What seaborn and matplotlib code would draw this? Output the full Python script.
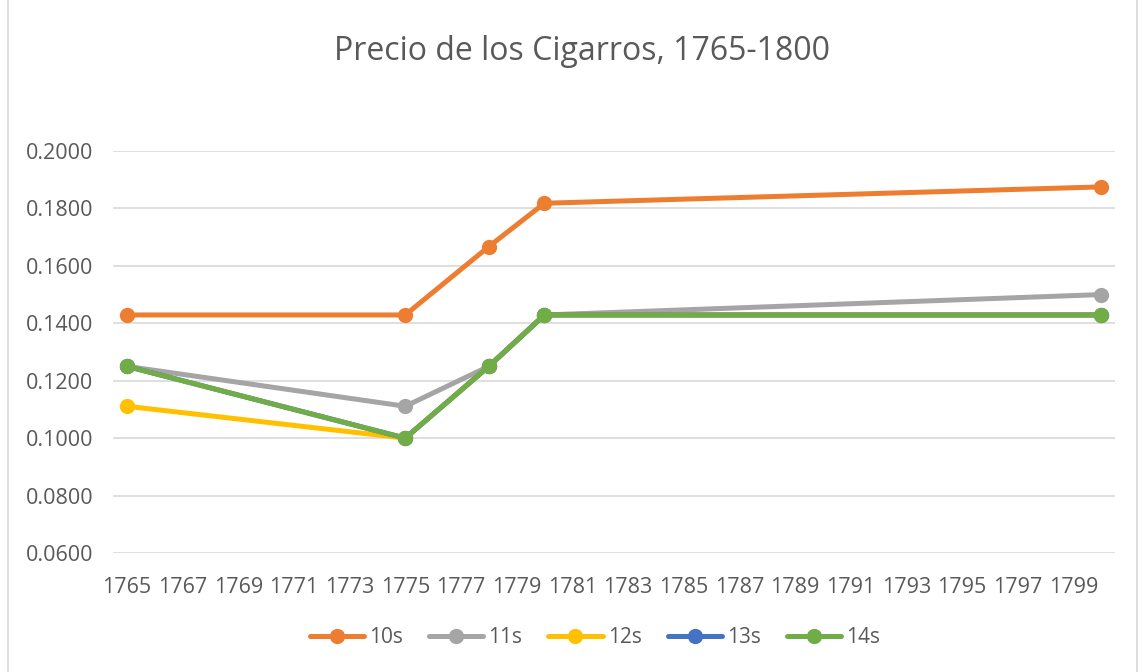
import numpy as np
import pandas as pd
import matplotlib.pyplot as plt
import seaborn as sns
from matplotlib.patches import Rectangle

years = [1765, 1775, 1778, 1780, 1800]
series_names = ["10s", "11s", "12s", "13s", "14s"]
price_10s = [0.1429, 0.1429, 0.1667, 0.1818, 0.1875]
price_11s = [0.1250, 0.1111, 0.1250, 0.1429, 0.1500]
price_12s = [0.1111, 0.1000, 0.1250, 0.1429, 0.1429]
price_13s = [0.1250, 0.1000, 0.1250, 0.1429, 0.1429]
price_14s = [0.1250, 0.1000, 0.1250, 0.1429, 0.1429]
tick_years = list(range(1765, 1800, 2))

colors = ["#ED7D31", "#A5A5A5", "#FFC000", "#4472C4", "#70AD47"]

# long-form table for seaborn
frames = []
for name, vals in zip(series_names, [price_10s, price_11s, price_12s, price_13s, price_14s]):
    frames.append(pd.DataFrame({"year": years, "price": vals, "serie": name}))
df = pd.concat(frames, ignore_index=True)

sns.set_style("white")
plt.rcParams["font.family"] = ["Open Sans", "DejaVu Sans"]
text_color = "#595959"

fig = plt.figure(figsize=(11.45, 6.72), dpi=100)
ax = fig.add_axes([113 / 1145, 1 - 553 / 672, (1115 - 113) / 1145, (553 - 151) / 672])

sns.lineplot(data=df, x="year", y="price", hue="serie", hue_order=series_names,
             palette=colors, marker="o", markersize=11, markeredgewidth=0,
             linewidth=3.6, ax=ax)

ax.set_xlim(1764.5, 1800.5)
ax.set_ylim(0.06, 0.2)
ax.set_yticks(np.arange(0.06, 0.2001, 0.02))
ax.set_yticklabels([f"{v:.4f}" for v in np.arange(0.06, 0.2001, 0.02)])
ax.set_xticks(tick_years)
ax.set_xticklabels([str(y) for y in tick_years])
ax.tick_params(axis="both", length=0, labelsize=15.5, colors=text_color)
ax.tick_params(axis="y", pad=14)
ax.tick_params(axis="x", pad=17)
ax.yaxis.grid(True, color="#D9D9D9", linewidth=1.2)
ax.set_axisbelow(True)
for s in ax.spines.values():
    s.set_visible(False)
ax.set_xlabel("")
ax.set_ylabel("")

fig.suptitle("Precio de los Cigarros, 1765-1800", x=0.508, y=0.948, fontsize=23, color=text_color)

handles, labels = ax.get_legend_handles_labels()
ax.legend(handles, labels, loc="center", bbox_to_anchor=(0.481, -0.21), ncol=5,
          frameon=False, fontsize=15, labelcolor=text_color, handlelength=2.6,
          columnspacing=1.25, handletextpad=0.25)

fig.patches.append(Rectangle((8 / 1145, -0.01), 1 - 16 / 1145, 1.05, transform=fig.transFigure,
                             fill=False, edgecolor="#D9D9D9", linewidth=1.2))

fig.savefig("out.png", dpi=100)
